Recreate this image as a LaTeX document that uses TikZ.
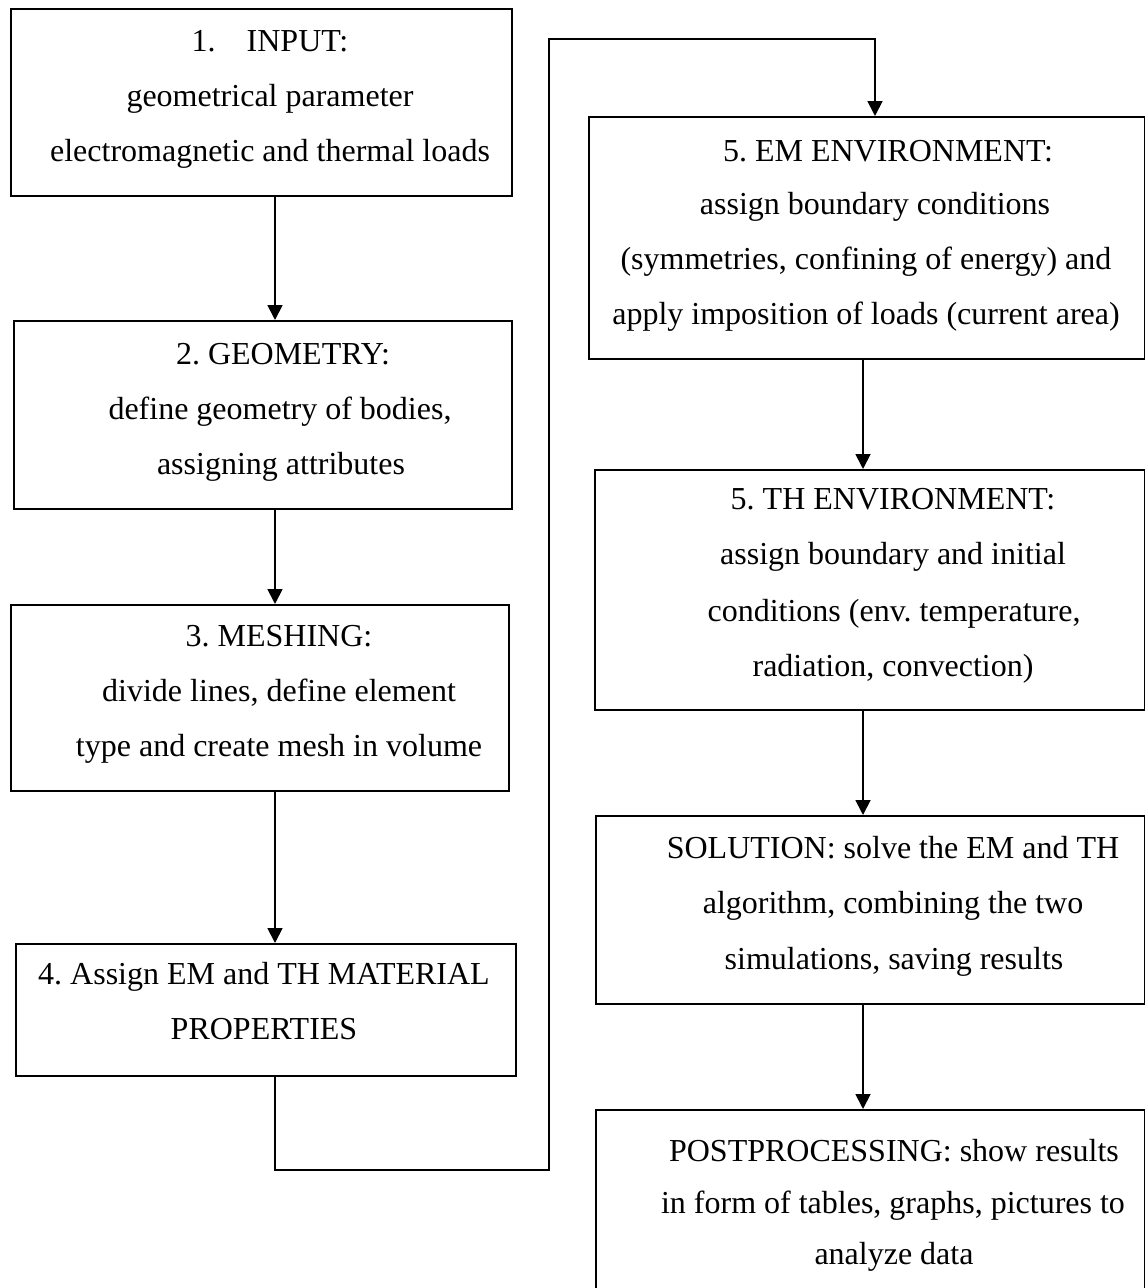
\documentclass[tikz,border=0pt]{standalone}
\usepackage{fontspec}
\setmainfont{Liberation Serif}
\usetikzlibrary{arrows.meta}
\frenchspacing
\begin{document}
\begin{tikzpicture}[x=1pt,y=-1pt,
  box/.style={draw=black,line width=1.8pt,rectangle,inner sep=0pt,anchor=north west},
  txt/.style={anchor=base,inner sep=0pt,font=\frenchspacing\fontsize{32}{38}\selectfont},
  arr/.style={draw=black,line width=1.8pt,-{Triangle[length=15pt,width=15pt]}},
  lin/.style={draw=black,line width=1.8pt}]
\useasboundingbox (0,0) rectangle (1145,1288);
\clip (0,0) rectangle (1145,1288);
\fill[white] (0,0) rectangle (1145,1288);
% boxes
\node[box,minimum width=501pt,minimum height=187pt] (b1) at (10,8) {};
\node[box,minimum width=498pt,minimum height=188pt] (b2) at (13,320) {};
\node[box,minimum width=498pt,minimum height=186pt] (b3) at (10,604) {};
\node[box,minimum width=500pt,minimum height=132pt] (b4) at (15,943) {};
\node[box,minimum width=556pt,minimum height=242pt] (b5) at (588,116) {};
\node[box,minimum width=550pt,minimum height=240pt] (b6) at (594,469) {};
\node[box,minimum width=549pt,minimum height=188pt] (b7) at (595,815) {};
\node[box,minimum width=549pt,minimum height=220pt] (b8) at (595,1109) {};
% texts
\node[txt] (t1a) at (270,51) {1.\hspace{31pt}INPUT:};
\node[txt] (t1b) at (270,106) {geometrical parameter};
\node[txt] (t1c) at (270,161) {electromagnetic and thermal loads};
\node[txt] (t2a) at (283,364) {2. GEOMETRY:};
\node[txt] (t2b) at (280,419) {define geometry of bodies,};
\node[txt] (t2c) at (281,474) {assigning attributes};
\node[txt] (t3a) at (279,646) {3. MESHING:};
\node[txt] (t3b) at (279,701) {divide lines, define element};
\node[txt] (t3c) at (279,756) {type and create mesh in volume};
\node[txt] (t4a) at (264,984) {4. Assign EM and TH MATERIAL};
\node[txt] (t4b) at (264,1039) {PROPERTIES};
\node[txt] (t5a) at (888,161) {5. EM ENVIRONMENT:};
\node[txt] (t5b) at (875,214) {assign boundary conditions};
\node[txt] (t5c) at (866,269) {(symmetries, confining of energy) and};
\node[txt] (t5d) at (866,324) {apply imposition of loads (current area)};
\node[txt] (t6a) at (893,509) {5. TH ENVIRONMENT:};
\node[txt] (t6b) at (893,564) {assign boundary and initial};
\node[txt] (t6c) at (894,621) {conditions (env. temperature,};
\node[txt] (t6d) at (893,676) {radiation, convection)};
\node[txt] (t7a) at (893,858) {SOLUTION: solve the EM and TH};
\node[txt] (t7b) at (893,913) {algorithm, combining the two};
\node[txt] (t7c) at (894,969) {simulations, saving results};
\node[txt] (t8a) at (894,1161) {POSTPROCESSING: show results};
\node[txt] (t8b) at (893,1213) {in form of tables, graphs, pictures to};
\node[txt] (t8c) at (894,1264) {analyze data};
% connector columns and turning points
\coordinate (colA) at (275,0);
\coordinate (colB) at (863,0);
\coordinate (k1) at (275,1170);
\coordinate (k2) at (549,1170);
\coordinate (k3) at (549,39);
\coordinate (k4) at (875,39);
% arrows
\draw[arr] (b1.south -| colA) -- (b2.north -| colA);
\draw[arr] (b2.south -| colA) -- (b3.north -| colA);
\draw[arr] (b3.south -| colA) -- (b4.north -| colA);
\draw[arr] (b4.south -| colA) -- (k1) -- (k2) -- (k3) -- (k4) -- (b5.north -| k4);
\draw[arr] (b5.south -| colB) -- (b6.north -| colB);
\draw[arr] (b6.south -| colB) -- (b7.north -| colB);
\draw[arr] (b7.south -| colB) -- (b8.north -| colB);
\end{tikzpicture}
\end{document}
